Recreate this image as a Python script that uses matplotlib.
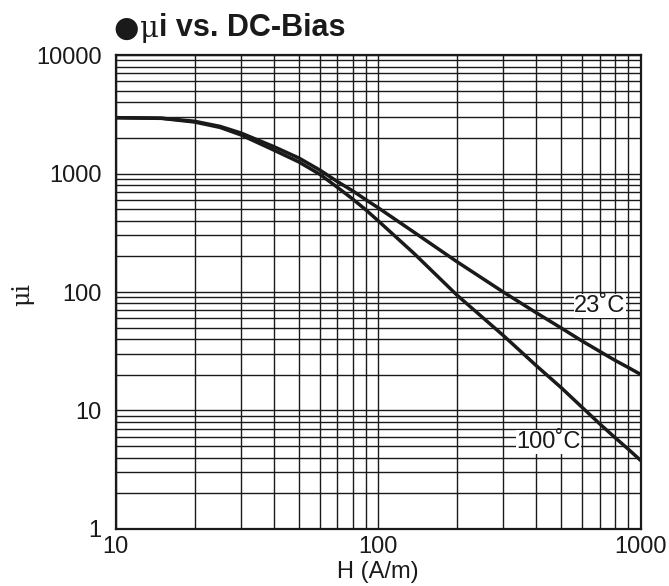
import matplotlib
matplotlib.use("Agg")
import matplotlib.pyplot as plt
from matplotlib.ticker import LogLocator, NullFormatter, FixedLocator

plt.rcParams["font.family"] = ["Liberation Sans", "DejaVu Sans"]

# field strength H (A/m) and initial permeability at two temperatures
h_field = [10, 15, 20, 25, 30, 40, 50, 60, 70, 80, 90, 100, 137, 200,
           300, 400, 500, 600, 700, 800, 900, 1000]
mu_23c = [2960, 2930, 2760, 2500, 2200, 1690, 1350, 1070, 855, 715, 600, 515,
          320, 180, 100, 67, 49.5, 38.5, 31.5, 26.5, 23, 20.2]
mu_100c = [2960, 2920, 2720, 2450, 2120, 1580, 1250, 985, 765, 610, 492, 400,
           212, 94, 43, 24, 15.5, 10.6, 7.7, 5.9, 4.7, 3.8]

x_ticks = [10, 100, 1000]
y_ticks = [1, 10, 100, 1000, 10000]

fs = 17
lw_curve = 2.5
lw_grid = 1.0
ink = "#1a1a1a"

fig = plt.figure(figsize=(6.69, 5.86), dpi=100)
ax = fig.add_axes([0.1727, 0.0973, 0.7847, 0.8088])

ax.set_xscale("log")
ax.set_yscale("log")
ax.set_xlim(10, 1000)
ax.set_ylim(1, 10000)

# full log grid, majors and minors alike
ax.xaxis.set_major_locator(FixedLocator(x_ticks))
ax.yaxis.set_major_locator(FixedLocator(y_ticks))
ax.xaxis.set_minor_locator(LogLocator(base=10, subs=range(2, 10)))
ax.yaxis.set_minor_locator(LogLocator(base=10, subs=range(2, 10)))
ax.xaxis.set_minor_formatter(NullFormatter())
ax.yaxis.set_minor_formatter(NullFormatter())
ax.set_xticklabels([str(v) for v in x_ticks])
ax.set_yticklabels([str(v) for v in y_ticks])
ax.grid(True, which="both", color=ink, linewidth=lw_grid)
ax.set_axisbelow(True)
ax.tick_params(which="both", length=0, labelsize=fs, colors=ink)
ax.tick_params(axis="y", pad=10)
ax.tick_params(axis="x", pad=5)
for sp in ax.spines.values():
    sp.set_linewidth(1.6)
    sp.set_color(ink)

ax.plot(h_field, mu_23c, color=ink, linewidth=lw_curve, zorder=3)
ax.plot(h_field, mu_100c, color=ink, linewidth=lw_curve, zorder=3)

box = dict(facecolor="white", edgecolor="none", pad=0.5)
ax.text(700, 76, "23˚C", fontsize=fs, ha="center", va="center", bbox=box, zorder=4, color=ink)
ax.text(446, 5.4, "100˚C", fontsize=fs, ha="center", va="center", bbox=box, zorder=4, color=ink)

ax.set_xlabel("H (A/m)", fontsize=fs, color=ink)
ax.xaxis.set_label_coords(0.5, -0.067)
ax.set_ylabel("μi", fontsize=fs, color=ink, family=["DejaVu Serif"])
ax.yaxis.set_label_coords(-0.155, 0.495)

# title: bullet, plain mu, bold rest
t1 = fig.text(0.170, 0.937, "●", fontsize=21, color=ink, va="baseline",
              family=["DejaVu Sans"])
t2 = ax.annotate("μ", xy=(1, 0), xycoords=t1, xytext=(1, 0), textcoords="offset points",
                 fontsize=21, color=ink, va="bottom", annotation_clip=False,
                 family=["DejaVu Serif"])
ax.annotate("i vs. DC-Bias", xy=(1, 0), xycoords=t2, fontsize=22, fontweight="bold",
            color=ink, va="bottom", annotation_clip=False)

fig.savefig("out.png", dpi=100)
